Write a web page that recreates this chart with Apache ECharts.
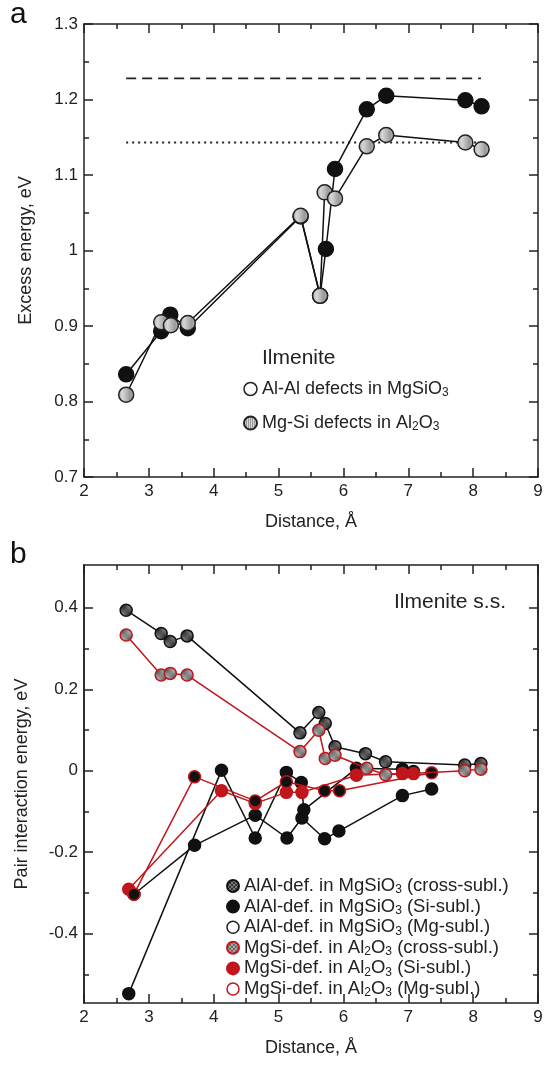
<!DOCTYPE html>
<html>
<head>
<meta charset="utf-8">
<script src="https://cdn.jsdelivr.net/npm/echarts@6/dist/echarts.min.js"></script>
<style>
html, body { margin: 0; padding: 0; background: #fff; }
#chart { width: 552px; height: 1082px; }
</style>
</head>
<body>
<div id="chart"></div>
<script>
// ---- panel a: excess energy vs distance ----
var aAlAlX = [2.65, 3.19, 3.33, 3.6, 5.34, 5.64, 5.73, 5.87, 6.36, 6.66, 7.88, 8.13];
var aAlAlY = [0.836, 0.893, 0.915, 0.897, 1.045, 0.94, 1.002, 1.108, 1.187, 1.205, 1.199, 1.191];
var aMgSiX = [2.65, 3.19, 3.34, 3.6, 5.34, 5.64, 5.71, 5.87, 6.36, 6.66, 7.88, 8.13];
var aMgSiY = [0.809, 0.905, 0.901, 0.904, 1.046, 0.94, 1.077, 1.069, 1.138, 1.153, 1.143, 1.134];
var aDashX = [2.65, 8.12];
var aDashY = [1.228, 1.228];
var aDotX = [2.65, 8.12];
var aDotY = [1.143, 1.143];

// ---- panel b: pair interaction energy ----
var bAlAlCrossX = [2.65, 3.19, 3.33, 3.59, 5.33, 5.62, 5.72, 5.87, 6.34, 6.65, 7.87, 8.12];
var bAlAlCrossY = [0.394, 0.337, 0.317, 0.331, 0.093, 0.143, 0.116, 0.059, 0.042, 0.022, 0.014, 0.018];
var bAlAlSiX = [2.69, 4.12, 4.64, 5.12, 5.35, 5.39, 6.2, 6.91, 7.08];
var bAlAlSiY = [-0.547, 0.001, -0.165, -0.004, -0.029, -0.096, 0.006, 0.004, -0.002];
var bAlAlMgX = [2.77, 3.705, 4.64, 5.13, 5.36, 5.71, 5.93, 6.91, 7.36];
var bAlAlMgY = [-0.303, -0.183, -0.109, -0.165, -0.116, -0.167, -0.148, -0.061, -0.045];
var bMgSiCrossX = [2.65, 3.19, 3.33, 3.59, 5.33, 5.62, 5.72, 5.87, 6.36, 6.65, 7.87, 8.12];
var bMgSiCrossY = [0.333, 0.235, 0.239, 0.235, 0.047, 0.0995, 0.03, 0.038, 0.006, -0.01, 0.0, 0.004];
var bMgSiSiX = [2.69, 4.12, 4.64, 5.12, 5.36, 6.2, 6.91, 7.08];
var bMgSiSiY = [-0.291, -0.049, -0.08, -0.053, -0.053, -0.011, -0.007, -0.007];
var bMgSiMgX = [2.77, 3.705, 4.64, 5.12, 5.71, 5.94, 7.36];
var bMgSiMgY = [-0.303, -0.015, -0.074, -0.027, -0.049, -0.049, -0.005];

var bMajorTicks = [-0.4, -0.2, 0, 0.2, 0.4];
var bMinorTicks = [-0.5, -0.3, -0.1, 0.1, 0.3];

var RED = '#c0161c';
var FONT = '"Liberation Sans", Arial, sans-serif';

function pairs(xs, ys) {
    return xs.map(function (x, i) { return [x, ys[i]]; });
}

function makePattern(kind, bg, fg) {
    var c = document.createElement('canvas');
    c.width = 4; c.height = 4;
    var g = c.getContext('2d');
    g.fillStyle = bg;
    g.fillRect(0, 0, 4, 4);
    g.fillStyle = fg;
    if (kind === 'stripe') {
        g.fillRect(0, 0, 1, 4);
        g.fillRect(2, 0, 1, 4);
    } else {
        g.fillRect(0, 0, 2, 2);
        g.fillRect(2, 2, 2, 2);
    }
    return { image: c, repeat: 'repeat' };
}

var stripeFill = makePattern('stripe', '#d6d6d6', '#9a9a9a');
var darkCheck = makePattern('check', '#777', '#333');
var greyCheck = makePattern('check', '#aaa', '#666');

function subFmt(name) {
    return name.replace(/(\d)/g, '{s|$1}');
}

var axisLine = { onZero: false, lineStyle: { color: '#222', width: 1.5 } };
var labelStyle = { color: '#222', fontSize: 17, fontFamily: FONT };

function xAx(grid, pos, showLabel) {
    return {
        type: 'value', gridIndex: grid, position: pos, min: 2, max: 9, interval: 1,
        axisLine: axisLine,
        axisTick: { inside: true, length: 9, lineStyle: { color: '#222', width: 1.5 } },
        minorTick: { show: true, splitNumber: 2, length: 5, lineStyle: { color: '#222', width: 1.5 } },
        splitLine: { show: false },
        axisLabel: showLabel ? Object.assign({ margin: 6 }, labelStyle) : { show: false },
        name: showLabel ? 'Distance, Å' : '',
        nameLocation: 'middle', nameGap: 36,
        nameTextStyle: { color: '#222', fontSize: 18, fontFamily: FONT }
    };
}

function yAxA(pos, showLabel) {
    return {
        type: 'value', gridIndex: 0, position: pos, min: 0.7, max: 1.3, interval: 0.1,
        axisLine: axisLine,
        axisTick: { inside: true, length: 9, lineStyle: { color: '#222', width: 1.5 } },
        minorTick: { show: true, splitNumber: 2, length: 5, lineStyle: { color: '#222', width: 1.5 } },
        splitLine: { show: false },
        axisLabel: showLabel ? Object.assign({ margin: 6, formatter: function (v) { return String(+v.toFixed(2)); } }, labelStyle) : { show: false },
        name: showLabel ? 'Excess energy, eV' : '',
        nameLocation: 'middle', nameGap: 49, nameRotate: 90,
        nameTextStyle: { color: '#222', fontSize: 18, fontFamily: FONT }
    };
}

function yAxB(pos, major) {
    return {
        type: 'value', gridIndex: 1, position: pos, min: -0.57, max: 0.505,
        axisLine: axisLine,
        axisTick: { inside: true, length: major ? 9 : 5, customValues: major ? bMajorTicks : bMinorTicks,
            lineStyle: { color: '#222', width: 1.5 } },
        splitLine: { show: false },
        axisLabel: (major && pos === 'left') ? Object.assign({ margin: 6, customValues: bMajorTicks,
            formatter: function (v) { return v === 0 ? '0' : v.toFixed(1); } }, labelStyle) : { show: false },
        name: (major && pos === 'left') ? 'Pair interaction energy, eV' : '',
        nameLocation: 'middle', nameGap: 53, nameRotate: 90,
        nameTextStyle: { color: '#222', fontSize: 18, fontFamily: FONT }
    };
}

function lineSeries(name, xs, ys, xi, yi, opts) {
    return {
        type: 'line', name: name, xAxisIndex: xi, yAxisIndex: yi,
        data: pairs(xs, ys), symbol: 'circle', symbolSize: opts.size,
        itemStyle: { color: opts.fill, borderColor: opts.border, borderWidth: 1.5 },
        lineStyle: { color: opts.line, width: 1.5 },
        z: opts.z || 2, animation: false
    };
}

var chart = echarts.init(document.getElementById('chart'));
chart.setOption({
    animation: false,
    grid: [
        { left: 84, top: 24, width: 454, height: 453 },
        { left: 84, top: 565, width: 454, height: 438 }
    ],
    xAxis: [xAx(0, 'bottom', true), xAx(0, 'top', false), xAx(1, 'bottom', true), xAx(1, 'top', false)],
    yAxis: [yAxA('left', true), yAxA('right', false),
        yAxB('left', true), yAxB('left', false), yAxB('right', true), yAxB('right', false)],
    legend: [
        {
            orient: 'vertical', left: 238, top: 374, itemGap: 14, itemWidth: 13, itemHeight: 13, icon: 'circle',
            formatter: subFmt,
            textStyle: { color: '#222', fontSize: 18, fontFamily: FONT, lineHeight: 20,
                rich: { s: { fontSize: 12, fontFamily: FONT, color: '#222', verticalAlign: 'bottom', lineHeight: 14 } } },
            data: [
                { name: 'Al-Al defects in MgSiO3', itemStyle: { color: '#fff', borderColor: '#222', borderWidth: 1.5 } },
                { name: 'Mg-Si defects in Al2O3' }
            ]
        },
        {
            orient: 'vertical', left: 221, top: 871, itemGap: 0.6, itemWidth: 12, itemHeight: 12, icon: 'circle',
            formatter: subFmt,
            textStyle: { color: '#222', fontSize: 18.5, fontFamily: FONT, lineHeight: 20,
                rich: { s: { fontSize: 12, fontFamily: FONT, color: '#222', verticalAlign: 'bottom', lineHeight: 13 } } },
            data: [
                { name: 'AlAl-def. in MgSiO3 (cross-subl.)' },
                { name: 'AlAl-def. in MgSiO3 (Si-subl.)' },
                { name: 'AlAl-def. in MgSiO3 (Mg-subl.)', itemStyle: { color: '#fff', borderColor: '#222', borderWidth: 1.5 } },
                { name: 'MgSi-def. in Al2O3 (cross-subl.)' },
                { name: 'MgSi-def. in Al2O3 (Si-subl.)' },
                { name: 'MgSi-def. in Al2O3 (Mg-subl.)', itemStyle: { color: '#fff', borderColor: RED, borderWidth: 1.5 } }
            ]
        }
    ],
    graphic: [
        { type: 'text', left: 10, top: 0, style: { text: 'a', fontSize: 30, fontFamily: FONT, fill: '#111' } },
        { type: 'text', left: 10, top: 540, style: { text: 'b', fontSize: 30, fontFamily: FONT, fill: '#111' } },
        { type: 'text', left: 262, top: 348, style: { text: 'Ilmenite', fontSize: 21, fontFamily: FONT, fill: '#222' } },
        { type: 'text', right: 46, top: 592, style: { text: 'Ilmenite s.s.', fontSize: 21, fontFamily: FONT, fill: '#222' } }
    ],
    series: [
        {
            type: 'line', name: 'dash', xAxisIndex: 0, yAxisIndex: 0, data: pairs(aDashX, aDashY),
            symbol: 'none', lineStyle: { color: '#222', width: 1.8, type: [10, 6] }
        },
        {
            type: 'line', name: 'dot', xAxisIndex: 0, yAxisIndex: 0, data: pairs(aDotX, aDotY),
            symbol: 'none', lineStyle: { color: '#222', width: 2, type: [2, 4] }
        },
        lineSeries('Al-Al defects in MgSiO3', aAlAlX, aAlAlY, 0, 0,
            { size: 15, fill: '#111', border: '#111', line: '#111', z: 3 }),
        lineSeries('Mg-Si defects in Al2O3', aMgSiX, aMgSiY, 0, 0,
            { size: 15, fill: stripeFill, border: '#222', line: '#111', z: 4 }),

        lineSeries('AlAl-def. in MgSiO3 (Si-subl.)', bAlAlSiX, bAlAlSiY, 2, 2,
            { size: 12, fill: '#111', border: '#111', line: '#111', z: 3 }),
        lineSeries('AlAl-def. in MgSiO3 (Mg-subl.)', bAlAlMgX, bAlAlMgY, 2, 2,
            { size: 12, fill: '#111', border: '#111', line: '#111', z: 3 }),
        lineSeries('MgSi-def. in Al2O3 (Si-subl.)', bMgSiSiX, bMgSiSiY, 2, 2,
            { size: 12, fill: RED, border: RED, line: RED, z: 4 }),
        lineSeries('MgSi-def. in Al2O3 (Mg-subl.)', bMgSiMgX, bMgSiMgY, 2, 2,
            { size: 12, fill: '#111', border: RED, line: RED, z: 4 }),
        lineSeries('AlAl-def. in MgSiO3 (cross-subl.)', bAlAlCrossX, bAlAlCrossY, 2, 2,
            { size: 12, fill: darkCheck, border: '#111', line: '#111', z: 5 }),
        lineSeries('MgSi-def. in Al2O3 (cross-subl.)', bMgSiCrossX, bMgSiCrossY, 2, 2,
            { size: 12, fill: greyCheck, border: RED, line: RED, z: 5 })
    ]
});
</script>
</body>
</html>
